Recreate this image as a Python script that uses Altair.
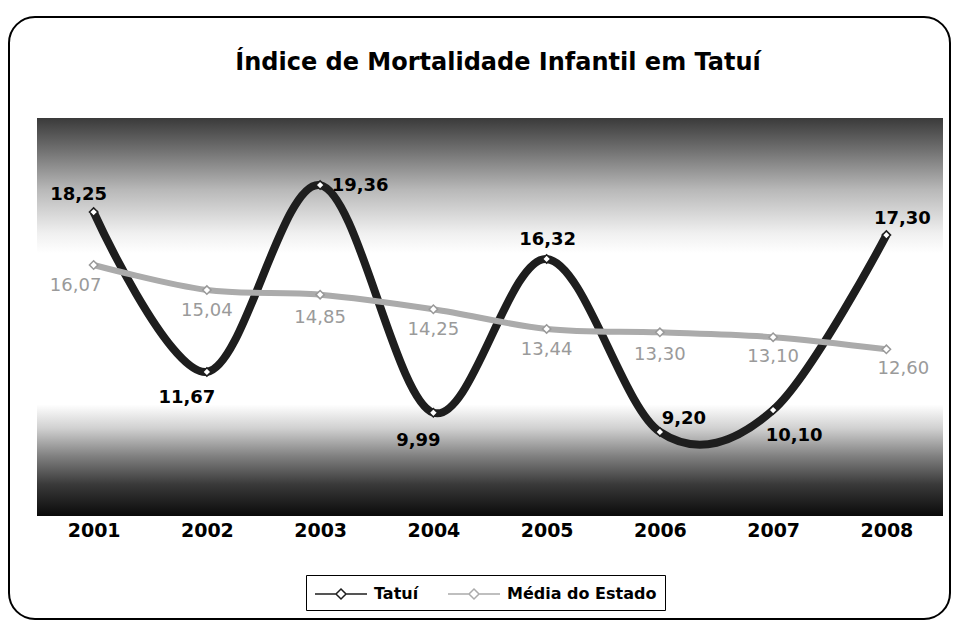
import altair as alt
import pandas as pd

# ---- data ----
anos = ["2001", "2002", "2003", "2004", "2005", "2006", "2007", "2008"]
tatui = [18.25, 11.67, 19.36, 9.99, 16.32, 9.20, 10.10, 17.30]
media = [16.07, 15.04, 14.85, 14.25, 13.44, 13.30, 13.10, 12.60]
series = ["Tatuí", "Média do Estado"]
titulo = "Índice de Mortalidade Infantil em Tatuí"

df = pd.DataFrame({
    "ano": anos * 2,
    "valor": tatui + media,
    "serie": [series[0]] * len(anos) + [series[1]] * len(anos),
})

# ---- style ----
W, H = 906, 398
FONT = "DejaVu Sans"
C_TATUI = "#1e1e1e"
C_MEDIA = "#ababab"

x = alt.X("ano:O", scale=alt.Scale(type="point", padding=0.5),
          axis=alt.Axis(title=None, labelAngle=0, domain=False, ticks=False,
                        labelFont=FONT, labelFontWeight="bold", labelFontSize=19,
                        labelColor="black", labelPadding=5))
y = alt.Y("valor:Q", scale=alt.Scale(domain=[5.74, 22.12], zero=False, nice=False), axis=None)

legend_path = "M-2.6,0H-0.5M0.5,0H2.6M0,-0.5L0.5,0L0,0.5L-0.5,0Z"
color = alt.Color("serie:N",
                  scale=alt.Scale(domain=series, range=[C_TATUI, C_MEDIA]),
                  legend=alt.Legend(title=None, orient="none", legendX=269, legendY=457,
                                    direction="horizontal", symbolType=legend_path,
                                    symbolSize=400, symbolFillColor="white",
                                    symbolStrokeWidth=1.5, symbolOffset=16, labelOffset=22,
                                    labelFont=FONT, labelFontWeight="bold", labelFontSize=16,
                                    labelColor="black", strokeColor="black", padding=8,
                                    columnPadding=26))

one = pd.DataFrame({"t": [titulo]})

bg = alt.Chart(one).mark_rect(
    fill=alt.Gradient(gradient="linear", x1=0, x2=0, y1=0, y2=1, stops=[
        alt.GradientStop(offset=0, color="#3a3a3a"),
        alt.GradientStop(offset=0.08, color="#707070"),
        alt.GradientStop(offset=0.18, color="#b8b8b8"),
        alt.GradientStop(offset=0.29, color="#f0f0f0"),
        alt.GradientStop(offset=0.34, color="#ffffff"),
        alt.GradientStop(offset=0.72, color="#ffffff"),
        alt.GradientStop(offset=0.78, color="#d0d0d0"),
        alt.GradientStop(offset=0.85, color="#808080"),
        alt.GradientStop(offset=0.92, color="#3a3a3a"),
        alt.GradientStop(offset=1, color="#0a0a0a"),
    ])
).encode(x=alt.value(0), x2=alt.value(W), y=alt.value(0), y2=alt.value(H))

border = alt.Chart(one).mark_rect(
    fillOpacity=0, stroke="black", strokeWidth=2, cornerRadius=26
).encode(x=alt.value(-28), x2=alt.value(913), y=alt.value(-101), y2=alt.value(501))

title = alt.Chart(one).mark_text(
    font=FONT, fontSize=24, fontWeight="bold", color="black", align="center", baseline="middle"
).encode(x=alt.value(461), y=alt.value(-55), text="t:N")

base = alt.Chart(df)

line_t = base.transform_filter(alt.datum.serie == series[0]).mark_line(
    interpolate="cardinal", tension=0, strokeWidth=8).encode(x=x, y=y, color=color)
line_m = base.transform_filter(alt.datum.serie == series[1]).mark_line(
    interpolate="cardinal", tension=0, strokeWidth=6).encode(x=x, y=y, color=color)

pts_t = base.transform_filter(alt.datum.serie == series[0]).mark_point(
    shape="diamond", filled=True, fill="white", stroke=C_TATUI, strokeWidth=1.5, size=70, opacity=1
).encode(x=x, y=y)
pts_m = base.transform_filter(alt.datum.serie == series[1]).mark_point(
    shape="diamond", filled=True, fill="white", stroke="#999999", strokeWidth=1.5, size=70, opacity=1
).encode(x=x, y=y)

fmt = "replace(format(datum.valor, '.2f'), '.', ',')"

off_t = {"2001": (-15, -17), "2002": (-20, 26), "2003": (40, 1), "2004": (-15, 28),
         "2005": (1, -19), "2006": (24, -13), "2007": (21, 26), "2008": (16, -16)}
off_m = {"2001": (-18, 21), "2002": (0, 21), "2003": (0, 23), "2004": (0, 21),
         "2005": (0, 21), "2006": (0, 23), "2007": (0, 20), "2008": (17, 20)}


def label(serie, ano, dx, dy, col, weight, size):
    return base.transform_filter(
        (alt.datum.serie == serie) & (alt.datum.ano == ano)
    ).transform_calculate(lbl=fmt).mark_text(
        dx=dx, dy=dy, font=FONT, fontSize=size, fontWeight=weight, color=col, baseline="middle"
    ).encode(x=x, y=y, text="lbl:N")


labels_m = [label(series[1], a, *off_m[a], "#9a9a9a", "normal", 18) for a in anos]
labels_t = [label(series[0], a, *off_t[a], "black", "bold", 18) for a in anos]

chart = alt.layer(
    bg, border, title, line_t, line_m, pts_t, pts_m, *labels_m, *labels_t
).properties(
    width=W, height=H,
    padding={"left": 29, "top": 110, "right": 8, "bottom": 104},
    autosize=alt.AutoSizeParams(type="none"),
).configure_view(stroke=None)

chart.save("out.html", embed_options={"renderer": "svg", "actions": False})
